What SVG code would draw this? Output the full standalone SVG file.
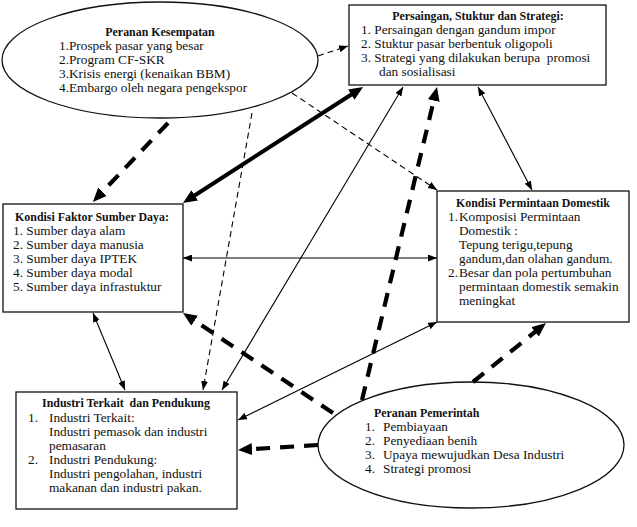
<svg xmlns="http://www.w3.org/2000/svg" width="637" height="527" viewBox="0 0 637 527">
<defs>
<style>
text{font-family:"Liberation Serif","Times New Roman",serif;font-size:13.3px;fill:#111;white-space:pre}
.t{font-weight:bold;text-anchor:middle;font-size:11.9px}
.b{font-weight:bold;font-size:11.9px}
.box{fill:#fff;stroke:#111;stroke-width:1.3}
.c{fill:none;stroke:#000}
.thin{stroke-width:1.1}
.thick{stroke-width:4}
.td{stroke-width:1.1;stroke-dasharray:6 4}
.kd{stroke-width:4.2;stroke-dasharray:14 10}
</style>
<marker id="a" viewBox="0 0 9 7" refX="9" refY="3.5" markerWidth="9" markerHeight="7" markerUnits="userSpaceOnUse" orient="auto-start-reverse"><path d="M0,0 L9,3.5 L0,7 z" fill="#000"/></marker>
<marker id="A" viewBox="0 0 14 12" refX="8" refY="6" markerWidth="14" markerHeight="12" markerUnits="userSpaceOnUse" orient="auto-start-reverse"><path d="M0,0 L14,6 L0,12 z" fill="#000"/></marker>
</defs>
<rect width="637" height="527" fill="#fff"/>

<g id="kesempatan">
<ellipse class="box" cx="160" cy="60" rx="158" ry="58"/>
<text class="t" x="160" y="36">Peranan Kesempatan</text>
<text x="59" y="50">1.Prospek pasar yang besar</text>
<text x="59" y="64">2.Program CF-SKR</text>
<text x="59" y="78">3.Krisis energi (kenaikan BBM)</text>
<text x="59" y="92">4.Embargo oleh negara pengekspor</text>
</g>

<g id="persaingan">
<rect class="box" x="349" y="5" width="257" height="80"/>
<text class="t" x="478" y="20">Persaingan, Stuktur dan Strategi:</text>
<text x="361" y="34">1. Persaingan dengan gandum impor</text>
<text x="361" y="48">2. Stuktur pasar berbentuk oligopoli</text>
<text x="361" y="62">3. Strategi yang dilakukan berupa  promosi</text>
<text x="379" y="76">dan sosialisasi</text>
</g>

<g id="faktor">
<rect class="box" x="3" y="204" width="180" height="108"/>
<text class="t" x="92" y="221">Kondisi Faktor Sumber Daya:</text>
<text x="13" y="235">1. Sumber daya alam</text>
<text x="13" y="249">2. Sumber daya manusia</text>
<text x="13" y="263">3. Sumber daya IPTEK</text>
<text x="13" y="277">4. Sumber daya modal</text>
<text x="13" y="291">5. Sumber daya infrastuktur</text>
</g>

<g id="permintaan">
<rect class="box" x="437" y="191" width="192" height="131"/>
<text class="t" x="533" y="207">Kondisi Permintaan Domestik</text>
<text x="448" y="221">1.</text>
<text x="459" y="221">Komposisi Permintaan</text>
<text x="459" y="235">Domestik :</text>
<text x="459" y="249">Tepung terigu,tepung</text>
<text x="459" y="263">gandum,dan olahan gandum.</text>
<text x="448" y="277">2.</text>
<text x="459" y="277">Besar dan pola pertumbuhan</text>
<text x="459" y="291">permintaan domestik semakin</text>
<text x="459" y="305">meningkat</text>
</g>

<g id="industri">
<rect class="box" x="16" y="392" width="221" height="117"/>
<text class="t" x="126" y="407">Industri Terkait  dan Pendukung</text>
<text x="28" y="422">1.</text>
<text x="49" y="422">Industri Terkait:</text>
<text x="49" y="436">Industri pemasok dan industri</text>
<text x="49" y="450">pemasaran</text>
<text x="28" y="464">2.</text>
<text x="49" y="464">Industri Pendukung:</text>
<text x="49" y="478">Industri pengolahan, industri</text>
<text x="49" y="492">makanan dan industri pakan.</text>
</g>

<g id="pemerintah">
<ellipse class="box" cx="471" cy="445" rx="153" ry="63"/>
<text class="b" x="374" y="417">Peranan Pemerintah</text>
<text x="365" y="431">1.</text>
<text x="383" y="431">Pembiayaan</text>
<text x="365" y="445">2.</text>
<text x="383" y="445">Penyediaan benih</text>
<text x="365" y="459">3.</text>
<text x="383" y="459">Upaya mewujudkan Desa Industri</text>
<text x="365" y="473">4.</text>
<text x="383" y="473">Strategi promosi</text>
</g>

<g id="connectors">
<line class="c td" x1="318" y1="56" x2="348" y2="46" marker-end="url(#a)"/>
<line class="c kd" x1="168" y1="123" x2="97" y2="197.6" marker-end="url(#A)"/>
<line class="c td" x1="292" y1="93" x2="437" y2="190" marker-end="url(#a)"/>
<line class="c td" x1="252" y1="113" x2="203" y2="390" marker-end="url(#a)"/>
<line class="c thick" x1="188" y1="199.7" x2="358" y2="90.3" marker-start="url(#A)" marker-end="url(#A)"/>
<line class="c thin" x1="222" y1="390" x2="403" y2="87" marker-start="url(#a)" marker-end="url(#a)"/>
<line class="c kd" x1="362" y1="400" x2="435.6" y2="92.8" marker-end="url(#A)"/>
<line class="c kd" x1="473" y1="382" x2="541.3" y2="326.8" marker-end="url(#A)"/>
<line class="c kd" x1="333" y1="413" x2="188" y2="316.3" marker-end="url(#A)"/>
<line class="c kd" x1="318" y1="445" x2="244" y2="449.6" marker-end="url(#A)"/>
<line class="c thin" x1="238" y1="420" x2="437" y2="322" marker-start="url(#a)" marker-end="url(#a)"/>
<line class="c thin" x1="183" y1="258" x2="437" y2="258" marker-start="url(#a)" marker-end="url(#a)"/>
<line class="c thin" x1="93" y1="313" x2="125" y2="390" marker-start="url(#a)" marker-end="url(#a)"/>
<line class="c thin" x1="478" y1="87" x2="532" y2="190" marker-start="url(#a)" marker-end="url(#a)"/>
</g>
</svg>
